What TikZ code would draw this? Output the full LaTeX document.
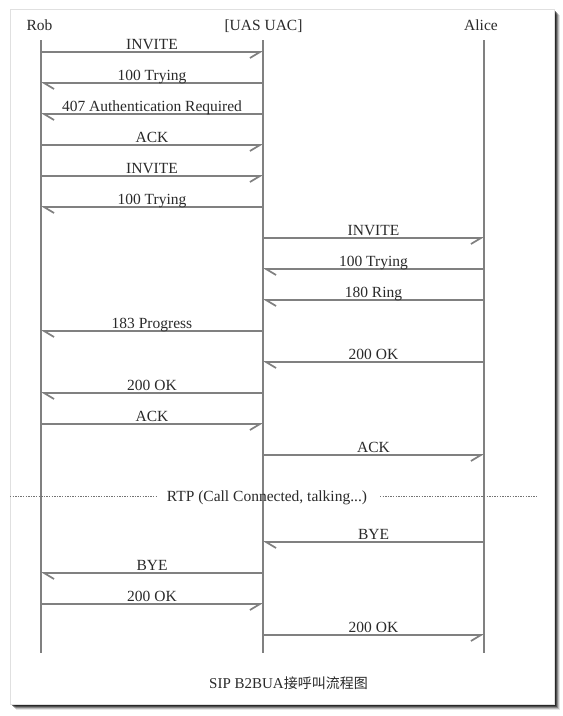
\documentclass[tikz,border=0pt]{standalone}
\usepackage{fontspec}
\setmainfont{Liberation Serif}
\newfontfamily\cjk{Noto Sans CJK SC}
\usetikzlibrary{arrows.meta}
\definecolor{ln}{HTML}{808080}
\definecolor{tx}{HTML}{2A2A2A}
\tikzset{
  life/.style={draw=ln, line width=1.9pt},
  msgR/.style={draw=ln, line width=1.8pt, -{Straight Barb[right, length=10pt, width=12pt, line width=1.7pt]}},
  msgL/.style={draw=ln, line width=1.8pt, -{Straight Barb[left, length=10pt, width=12pt, line width=1.7pt]}},
  lbl/.style={text=tx, font=\fontsize{15.5}{18}\selectfont, anchor=base, inner sep=0pt, yshift=3pt},
  head/.style={text=tx, font=\fontsize{15.5}{18}\selectfont, anchor=base, inner sep=0pt},
  rtp/.style={draw=black!55, line width=1.5pt, dash pattern=on 1.4pt off 1.2pt},
}
\newcommand\msgR[5]{\coordinate (#1s) at (#2,#4); \coordinate (#1e) at (#3,#4);
  \draw[msgR] (#1s) -- node[lbl]{#5} (#1e);}
\newcommand\msgL[5]{\coordinate (#1s) at (#2,#4); \coordinate (#1e) at (#3,#4);
  \draw[msgL] (#1s) -- node[lbl]{#5} (#1e);}
\begin{document}
\begin{tikzpicture}[x=1pt,y=-1pt]
\useasboundingbox (0,0) rectangle (563,716);
\fill[white] (0,0) rectangle (563,716);
% frame shadow
\foreach \o/\a in {6/0.10,5/0.18,4/0.28,3/0.40,2/0.50,1/0.55}{
  \fill[black, opacity=\a] (10+\o,9+\o) rectangle (554+\o,704+\o);}
\fill[white] (10,9) rectangle (554,704);
\draw[black!12, line width=0.5pt] (10,9) rectangle (554,704);
% heads
\node[head] (rob) at (39.5,30) {Rob};
\node[head] (uas) at (263.5,30) {[UAS UAC]};
\node[head] (alice) at (481,30) {Alice};
\coordinate (robT) at (41,40); \coordinate (robB) at (41,653);
\coordinate (uasT) at (263,40); \coordinate (uasB) at (263,653);
\coordinate (aliT) at (484,40); \coordinate (aliB) at (484,653);
\draw[life] (robT) -- (robB);
\draw[life] (uasT) -- (uasB);
\draw[life] (aliT) -- (aliB);
% messages
\def\R{41}\def\U{263}\def\A{484}
\msgR{m1}{\R}{\U}{52}{INVITE}
\msgL{m2}{\U}{\R}{83}{100 Trying}
\msgL{m3}{\U}{\R}{114}{407 Authentication Required}
\msgR{m4}{\R}{\U}{145}{ACK}
\msgR{m5}{\R}{\U}{176}{INVITE}
\msgL{m6}{\U}{\R}{207}{100 Trying}
\msgR{m7}{\U}{\A}{238}{INVITE}
\msgL{m8}{\A}{\U}{269}{100 Trying}
\msgL{m9}{\A}{\U}{300}{180 Ring}
\msgL{m10}{\U}{\R}{331}{183 Progress}
\msgL{m11}{\A}{\U}{362}{200 OK}
\msgL{m12}{\U}{\R}{393}{200 OK}
\msgR{m13}{\R}{\U}{424}{ACK}
\msgR{m14}{\U}{\A}{455}{ACK}
% RTP
\node[head] (rtpl) at (267,501) {RTP (Call Connected, talking...)};
\coordinate (d1) at (10,496.5); \coordinate (d2) at (158,496.5);
\coordinate (d3) at (380,496.5); \coordinate (d4) at (537,496.5);
\draw[rtp] (d1) -- (d2);
\draw[rtp] (d3) -- (d4);
\msgL{m15}{\A}{\U}{542}{BYE}
\msgL{m16}{\U}{\R}{573}{BYE}
\msgR{m17}{\R}{\U}{604}{200 OK}
\msgR{m18}{\U}{\A}{635}{200 OK}
% title
\node[text=tx, font=\fontsize{15}{18}\selectfont, anchor=base, inner sep=0pt] (title) at (288.5,688) {SIP B2BUA{\cjk\fontsize{14}{18}\selectfont 接呼叫流程图}};
\end{tikzpicture}
\end{document}
